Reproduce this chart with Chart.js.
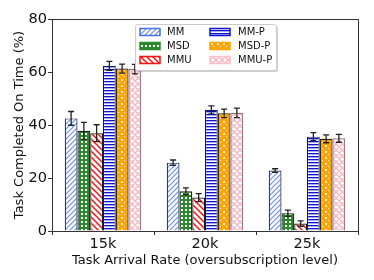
<!DOCTYPE html>
<html><head><meta charset="utf-8">
<script src="https://cdn.jsdelivr.net/npm/chart.js@4"></script>
<style>html,body{margin:0;padding:0;background:#fff;}#wrap{width:374px;height:280px;position:relative;}</style>
</head><body><div id="wrap"><canvas id="c" width="374" height="280"></canvas></div>
<script>
const categories = ['15k', '20k', '25k'];
const seriesNames = ['MM', 'MSD', 'MMU', 'MM-P', 'MSD-P', 'MMU-P'];
const MM    = [42.5, 25.8, 22.8];
const MSD   = [37.8, 15.0, 6.7];
const MMU   = [36.9, 12.6, 2.8];
const MMP   = [62.3, 45.7, 35.6];
const MSDP  = [61.3, 44.4, 34.8];
const MMUP  = [61.1, 44.6, 35.0];
const MM_err   = [2.6, 1.0, 0.7];
const MSD_err  = [3.2, 1.3, 1.2];
const MMU_err  = [3.2, 1.5, 1.0];
const MMP_err  = [1.7, 1.5, 1.5];
const MSDP_err = [1.7, 1.6, 1.5];
const MMUP_err = [1.8, 1.8, 1.5];
const yTicks = [0, 20, 40, 60, 80];

const ctx = document.getElementById('c').getContext('2d');
function mk(w, h, draw) {
  const c = document.createElement('canvas'); c.width = w; c.height = h;
  const x = c.getContext('2d'); draw(x, w, h); return ctx.createPattern(c, 'repeat');
}
function lines(x, segs, color, lw) {
  x.strokeStyle = color; x.lineWidth = lw; x.beginPath();
  segs.forEach(s => { x.moveTo(s[0], s[1]); x.lineTo(s[2], s[3]); }); x.stroke();
}
const patMM = mk(5, 5, (x, w, h) => { x.fillStyle = '#fff'; x.fillRect(0,0,w,h);
  lines(x, [[0,5,5,0],[-1,1,1,-1],[4,6,6,4]], '#6b8ff0', 1.2); });
const patMMU = mk(6, 6, (x, w, h) => { x.fillStyle = '#fff'; x.fillRect(0,0,w,h);
  lines(x, [[0,0,6,6],[-1,5,1,7],[5,-1,7,1]], '#ff1010', 1.5); });
const patMSD = mk(4, 4, (x, w, h) => { x.fillStyle = '#2a8a2a'; x.fillRect(0,0,w,h);
  x.fillStyle = '#ffffff'; x.fillRect(1,1,2,2); });
const patMMP = mk(3, 3, (x, w, h) => { x.fillStyle = '#fff'; x.fillRect(0,0,w,h);
  x.fillStyle = '#1010d0'; x.fillRect(0,0,w,1); x.fillStyle = '#a7aef0'; x.fillRect(0,1,w,1); });
const patMSDP = mk(6, 6, (x, w, h) => { x.fillStyle = '#ffa500'; x.fillRect(0,0,w,h);
  x.fillStyle = '#fff2d6'; x.fillRect(1,1,2,2); x.fillRect(4,4,1,1); });
const patMMUP = mk(6, 6, (x, w, h) => { x.fillStyle = '#fff'; x.fillRect(0,0,w,h);
  lines(x, [[0,0,6,6],[0,6,6,0],[-1,5,1,7],[5,-1,7,1],[-1,1,1,-1],[5,7,7,5]], '#ffb3c1', 1.3); });

const values = [MM, MSD, MMU, MMP, MSDP, MMUP];
const errors = [MM_err, MSD_err, MMU_err, MMP_err, MSDP_err, MMUP_err];
const pats = [patMM, patMSD, patMMU, patMMP, patMSDP, patMMUP];
const edgeCols = ['#1c2a55', '#1a1a1a', '#1a1a1a', '#141450', '#1a1a1a', '#8a7576'];
const legendCols = ['#4a72e8', '#2a8a2a', '#ff1010', '#1010d0', '#ffa500', '#ffbfca'];

const datasets = seriesNames.map((n, i) => ({
  label: n, data: values[i], err: errors[i], backgroundColor: pats[i],
  borderColor: edgeCols[i], borderWidth: 1.2,
  categoryPercentage: 0.75, barPercentage: 1.0
}));

const FONT = 'DejaVu Sans';

const errPlugin = {
  id: 'errbars',
  afterDatasetsDraw(chart) {
    const c = chart.ctx, y = chart.scales.y;
    c.save(); c.strokeStyle = '#222'; c.lineWidth = 1.3;
    chart.data.datasets.forEach((ds, i) => {
      const meta = chart.getDatasetMeta(i);
      meta.data.forEach((bar, j) => {
        const v = ds.data[j], e = ds.err[j];
        const y1 = y.getPixelForValue(v + e), y2 = y.getPixelForValue(v - e);
        c.beginPath();
        c.moveTo(bar.x, y1); c.lineTo(bar.x, y2);
        c.moveTo(bar.x - 3, y1); c.lineTo(bar.x + 3, y1);
        c.moveTo(bar.x - 3, y2); c.lineTo(bar.x + 3, y2);
        c.stroke();
      });
    });
    c.restore();
  }
};
const framePlugin = {
  id: 'frame',
  afterDraw(chart) {
    const c = chart.ctx, a = chart.chartArea;
    c.save(); c.strokeStyle = '#333'; c.lineWidth = 1;
    c.strokeRect(Math.round(a.left) + 0.5, Math.round(a.top) + 0.5, Math.round(a.right - a.left), Math.round(a.bottom - a.top));
    c.restore();
  }
};
const legendPlugin = {
  id: 'legendbox',
  afterDraw(chart) {
    const c = chart.ctx;
    const bx = 135, by = 24, bw = 141, bh = 46;
    c.save();
    c.fillStyle = 'rgba(0,0,0,0.18)';
    c.beginPath(); c.roundRect(bx + 2, by + 2, bw, bh, 2); c.fill();
    c.fillStyle = '#fff'; c.strokeStyle = '#cccccc'; c.lineWidth = 1;
    c.beginPath(); c.roundRect(bx + 0.5, by + 0.5, bw, bh, 2); c.fill(); c.stroke();
    c.font = '10px "' + FONT + '"'; c.textBaseline = 'middle'; c.textAlign = 'left';
    const cols = [{sx: 140, tx: 167}, {sx: 210, tx: 238}];
    const rows = [32, 46, 60];
    for (let i = 0; i < 6; i++) {
      const col = cols[Math.floor(i / 3)], ry = rows[i % 3];
      c.fillStyle = pats[i]; c.fillRect(col.sx, ry - 3.5, 20, 7);
      c.strokeStyle = legendCols[i]; c.lineWidth = 1.5;
      c.strokeRect(col.sx, ry - 3.5, 20, 7);
      c.fillStyle = '#111'; c.fillText(seriesNames[i], col.tx, ry + 0.5);
    }
    c.restore();
  }
};

new Chart(ctx, {
  type: 'bar',
  data: { labels: categories, datasets },
  plugins: [errPlugin, framePlugin, legendPlugin],
  options: {
    responsive: false, animation: false, devicePixelRatio: 1,
    layout: { padding: { left: 0, top: 19, right: 16, bottom: 0 } },
    plugins: { legend: { display: false }, tooltip: { enabled: false } },
    scales: {
      x: {
        grid: { display: true, drawOnChartArea: false, drawTicks: true, tickLength: 4, color: '#333' },
        border: { display: true, color: '#333', width: 1 },
        ticks: { color: '#111', font: { family: FONT, size: 14.5 }, padding: 1 },
        title: { display: true, text: 'Task Arrival Rate (oversubscription level)', color: '#111',
                 font: { family: FONT, size: 13 }, padding: { top: 0, bottom: 12 } },
        afterFit(s) { s.height = 49; }
      },
      y: {
        min: 0, max: 80,
        afterBuildTicks(s) { s.ticks = yTicks.map(v => ({ value: v })); },
        grid: { display: true, drawOnChartArea: false, drawTicks: true, tickLength: 4, color: '#333' },
        border: { display: true, color: '#333', width: 1 },
        ticks: { color: '#111', font: { family: FONT, size: 14.5 }, padding: 1 },
        title: { display: true, text: 'Task Completed On Time (%)', color: '#111',
                 font: { family: FONT, size: 13 }, padding: { top: 12, bottom: 0 } },
        afterFit(s) { s.width = 52; }
      }
    }
  }
});
</script>
</body></html>
